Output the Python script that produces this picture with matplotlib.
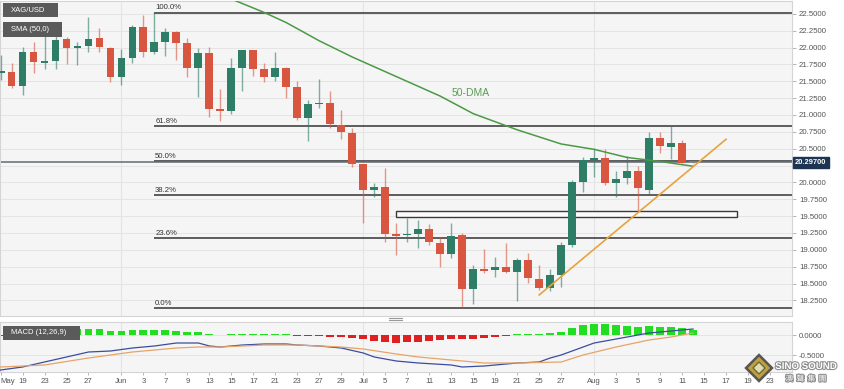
import numpy as np
import pandas as pd
import matplotlib
matplotlib.use("Agg")
import matplotlib.pyplot as plt
import matplotlib.transforms as mtransforms
import matplotlib.patheffects as pe
from matplotlib.patches import Rectangle, Polygon
from matplotlib.lines import Line2D

plt.rcParams['font.family'] = ['Liberation Sans', 'Noto Sans CJK SC', 'DejaVu Sans']

# trading days on the x axis (weekdays only)
days = pd.bdate_range("2022-05-17", "2022-08-26")

# daily candles XAG/USD, May 17 -> Aug 12
opens = [21.63, 21.64, 21.43, 21.93, 21.77, 21.80, 22.13, 21.99, 22.02, 22.14,
         21.99, 21.56, 21.85, 22.31, 21.93, 22.08, 22.23, 22.07, 21.70, 21.92,
         21.09, 21.06, 21.70, 21.96, 21.68, 21.56, 21.70, 21.42, 20.96, 21.16,
         21.18, 20.85, 20.73, 20.27, 19.89, 19.93, 19.22, 19.22, 19.23, 19.31,
         19.10, 18.94, 19.22, 18.42, 18.72, 18.70, 18.74, 18.67, 18.85, 18.57,
         18.43, 18.63, 19.07, 20.01, 20.33, 20.36, 19.99, 20.07, 20.17, 19.89,
         20.66, 20.53, 20.58, 20.30]
highs = [21.89, 21.77, 22.01, 22.08, 22.23, 22.22, 22.16, 22.08, 22.45, 22.29,
         22.01, 21.98, 22.34, 22.48, 22.53, 22.29, 22.25, 22.14, 21.99, 22.01,
         21.39, 21.85, 21.97, 21.97, 21.77, 21.93, 21.71, 21.50, 21.22, 21.53,
         21.36, 21.07, 20.81, 20.28, 19.99, 20.21, 19.40, 19.47, 19.44, 19.38,
         19.19, 19.40, 19.25, 18.77, 19.01, 18.89, 19.10, 18.88, 18.95, 18.77,
         18.72, 19.12, 20.04, 20.38, 20.51, 20.50, 20.17, 20.39, 20.24, 20.75,
         20.75, 20.84, 20.63, 20.31]
lows = [21.52, 21.40, 21.30, 21.62, 21.68, 21.68, 21.76, 21.74, 21.93, 21.93,
        21.49, 21.45, 21.77, 21.86, 21.91, 21.88, 21.82, 21.56, 21.27, 20.97,
        20.91, 21.01, 21.36, 21.58, 21.49, 21.50, 21.25, 20.93, 20.61, 21.10,
        20.81, 20.64, 20.23, 19.40, 19.78, 19.12, 18.92, 19.12, 19.03, 19.07,
        18.74, 18.88, 18.15, 18.20, 18.66, 18.60, 18.66, 18.24, 18.51, 18.40,
        18.39, 18.45, 19.04, 19.86, 20.08, 19.96, 19.78, 19.98, 19.56, 19.81,
        20.44, 20.35, 20.29, 20.29]
closes = [21.65, 21.43, 21.93, 21.79, 21.80, 22.11, 21.99, 22.02, 22.13, 22.01,
          21.56, 21.85, 22.31, 21.93, 22.08, 22.23, 22.07, 21.70, 21.92, 21.09,
          21.06, 21.70, 21.96, 21.68, 21.56, 21.70, 21.42, 20.96, 21.16, 21.17,
          20.87, 20.75, 20.27, 19.89, 19.93, 19.23, 19.21, 19.23, 19.31, 19.12,
          18.94, 19.20, 18.42, 18.72, 18.69, 18.74, 18.67, 18.85, 18.58, 18.43,
          18.63, 19.07, 20.01, 20.33, 20.36, 19.99, 20.05, 20.17, 19.92, 20.66,
          20.54, 20.58, 20.29, 20.297]
last_price = 20.297

# 50-day SMA, read at a few days
sma_days = ["2022-06-15", "2022-06-20", "2022-06-22", "2022-06-27", "2022-06-30",
            "2022-07-06", "2022-07-12", "2022-07-15", "2022-07-21", "2022-07-27",
            "2022-08-01", "2022-08-04", "2022-08-09", "2022-08-12"]
sma_vals = [22.72, 22.52, 22.37, 22.10, 21.86, 21.57, 21.28, 21.02, 20.78, 20.57,
            20.49, 20.37, 20.31, 20.24]

# fibonacci retracement (Jun 6 high -> Jul 14 low)
fib_start = "2022-06-06"
fib_labels = ["100.0%", "61.8%", "50.0%", "38.2%", "23.6%", "0.0%"]
fib_levels = [22.52, 20.84, 20.32, 19.81, 19.17, 18.13]

# rising support line and the resistance zone
trend_days = ["2022-07-25", "2022-08-17"]
trend_vals = [18.33, 20.64]
zone_days = ["2022-07-06", "2022-08-18"]
zone_vals = [19.48, 19.57]

# MACD (12,26,9)
macd_days = [0, 2, 4, 6, 8, 10, 12, 14, 16, 18, 19, 20, 22, 24, 26, 27, 29, 31, 33, 34,
             36, 38, 41, 42, 44, 47, 49, 50, 51, 53, 54, 56, 58, 59, 61, 63]
macd_vals = [-0.875, -0.80, -0.675, -0.55, -0.425, -0.40, -0.325, -0.275, -0.20, -0.20,
             -0.275, -0.30, -0.25, -0.225, -0.225, -0.25, -0.275, -0.325, -0.45, -0.55,
             -0.65, -0.70, -0.75, -0.80, -0.775, -0.70, -0.675, -0.575, -0.50, -0.30,
             -0.20, -0.10, 0.0, 0.05, 0.10, 0.15]
signal_days = [0, 4, 8, 12, 16, 18, 20, 24, 27, 31, 33, 36, 38, 41, 44, 47, 51, 53, 56, 59, 61, 63]
signal_vals = [-0.80, -0.75, -0.575, -0.425, -0.325, -0.30, -0.30, -0.25, -0.25, -0.30,
               -0.35, -0.475, -0.55, -0.625, -0.70, -0.70, -0.675, -0.50, -0.30, -0.125,
               -0.05, 0.05]
hist = [-0.02, 0.02, 0.06, 0.09, 0.12, 0.14, 0.15, 0.15, 0.16, 0.15,
        0.11, 0.11, 0.125, 0.125, 0.125, 0.125, 0.11, 0.08, 0.075, 0.02,
        0.01, 0.015, 0.03, 0.03, 0.03, 0.03, 0.025, -0.02, -0.02, -0.03,
        -0.04, -0.06, -0.08, -0.11, -0.14, -0.175, -0.19, -0.18, -0.17, -0.14,
        -0.125, -0.10, -0.11, -0.09, -0.07, -0.04, -0.02, 0.02, 0.02, 0.02,
        0.04, 0.07, 0.17, 0.25, 0.28, 0.27, 0.25, 0.23, 0.21, 0.22,
        0.21, 0.21, 0.17, 0.125]

# x axis labels
tick_days = ["2022-05-17", "2022-05-19", "2022-05-23", "2022-05-25", "2022-05-27",
             "2022-06-01", "2022-06-03", "2022-06-07", "2022-06-09", "2022-06-13",
             "2022-06-15", "2022-06-17", "2022-06-21", "2022-06-23", "2022-06-27",
             "2022-06-29", "2022-07-01", "2022-07-05", "2022-07-07", "2022-07-11",
             "2022-07-13", "2022-07-15", "2022-07-19", "2022-07-21", "2022-07-25",
             "2022-07-27", "2022-08-01", "2022-08-03", "2022-08-05", "2022-08-09",
             "2022-08-11", "2022-08-15", "2022-08-17", "2022-08-19", "2022-08-23"]
tick_labels = ["May", "19", "23", "25", "27", "Jun", "3", "7", "9", "13", "15", "17",
               "21", "23", "27", "29", "Jul", "5", "7", "11", "13", "15", "19", "21",
               "25", "27", "Aug", "3", "5", "9", "11", "15", "17", "19", "23"]
month_days = ["2022-06-01", "2022-07-01", "2022-08-01"]


def pos(d):
	return days.get_loc(pd.Timestamp(d))


W, H = 845.0, 389.0
GREEN = '#2e7d67'
RED = '#d8563f'
BG = '#f5f5f5'
GRID = '#e4e4e4'

fig = plt.figure(figsize=(W / 100, H / 100), dpi=100)
ax = fig.add_axes([0, 73 / H, 792 / W, 315 / H])
axm = fig.add_axes([0, 17 / H, 792 / W, 50 / H], sharex=ax)

for a in (ax, axm):
	a.set_facecolor(BG)
	a.set_axisbelow(True)
	for s in a.spines.values():
		s.set_color('#d4d4d4')
		s.set_linewidth(0.8)
	a.yaxis.tick_right()
	a.grid(axis='y', color=GRID, lw=0.7)
	for d in month_days:
		a.axvline(pos(d), color=GRID, lw=0.8, zorder=0)
	a.tick_params(axis='y', length=3, width=0.6, color='#aaaaaa', labelsize=5.6,
				  labelcolor='#555555', pad=2)

# ------------------- candles -------------------
o = np.array(opens)
c = np.array(closes)
x = np.arange(len(o))
col = np.where(c >= o, GREEN, RED)
ax.vlines(x, lows, highs, colors=col, lw=1.0, alpha=0.6, zorder=3)
ax.bar(x, np.maximum(np.abs(c - o), 0.018), bottom=np.minimum(o, c), width=0.72,
	   color=col, lw=0, zorder=4)

# fibonacci levels
xmax = 72
ax.hlines(fib_levels, pos(fib_start), xmax, color='#333333', lw=1.1, zorder=2)
for lab, lev in zip(fib_labels, fib_levels):
	ax.annotate(lab, (pos(fib_start), lev), xytext=(0.5, 0.8), textcoords='offset points',
				fontsize=5.6, color='#333333', va='bottom', ha='left')

# current price line
ax.axhline(last_price, color='#5d6b79', lw=1.1, zorder=2)

# zone box
ax.add_patch(Rectangle((pos(zone_days[0]), zone_vals[0]), pos(zone_days[1]) - pos(zone_days[0]),
					   zone_vals[1] - zone_vals[0], fc='#fbfbfb', ec='#3a3a3a', lw=1.0, zorder=2))

# 50 DMA and trend line
ax.plot([pos(d) for d in sma_days], sma_vals, color='#4a9a45', lw=1.1, zorder=5)
ax.text(pos("2022-07-13"), 21.32, "50-DMA", color='#5a9e55', fontsize=7.5, va='center', ha='left')
ax.plot([pos(d) for d in trend_days], trend_vals, color='#e8a33d', lw=1.2, zorder=5)

ax.set_ylim(18.018, 22.691)
ax.set_xlim(-0.05, xmax)
yt = np.arange(18.25, 22.51, 0.25)
ax.set_yticks(yt)
# the 20.25 label sits under the price tag
ax.set_yticklabels(['' if abs(v - 20.25) < 1e-6 else '%.4f' % v for v in yt])
ax.tick_params(axis='x', length=0, labelbottom=False)

# price tag on right axis
tr = mtransforms.blended_transform_factory(ax.transAxes, ax.transData)
ax.text(1.004, last_price, '%.5f' % last_price, transform=tr, fontsize=5.4, color='white',
		fontweight='bold', va='center', ha='left', zorder=10, clip_on=False,
		bbox=dict(boxstyle='square,pad=0.28', fc='#1d3553', ec='#1d3553'))

# ------------------- MACD -------------------
h = np.array(hist)
axm.bar(x, h, width=0.72, color=np.where(h >= 0, '#22dd22', '#e02020'), lw=0, zorder=2)
axm.plot(macd_days, macd_vals, color='#3c4d9c', lw=0.9, zorder=3)
axm.plot(signal_days, signal_vals, color='#e6a468', lw=0.9, zorder=3)
axm.set_ylim(-0.925, 0.325)
axm.set_yticks([0.0, -0.5])
axm.set_yticklabels(['0.0000', '-0.5000'])

axm.set_xticks([pos(d) for d in tick_days])
axm.set_xticklabels(tick_labels)
axm.tick_params(axis='x', length=2.5, width=0.6, color='#aaaaaa', labelsize=5.6,
				labelcolor='#555555', pad=2)
axm.get_xticklabels()[0].set_ha('left')


# ------------------- labels and decorations -------------------
def label_box(x0, y0, w, hgt, text):
	fig.patches.append(Rectangle((x0 / W, 1 - (y0 + hgt) / H), w / W, hgt / H,
								 transform=fig.transFigure, fc='#5a5a5a', ec='none', zorder=6))
	fig.text((x0 + 8) / W, 1 - (y0 + hgt / 2) / H, text, color='white', fontsize=5.5,
			 va='center', ha='left', zorder=7)


label_box(3, 3, 55, 14, "XAG/USD")
label_box(3, 22, 59, 15, "SMA (50,0)")
label_box(3, 326, 77, 14, "MACD (12,26,9)")

# panel resize handle
for yy in (317.5, 320):
	fig.add_artist(Line2D([389 / W, 402 / W], [1 - yy / H, 1 - yy / H], color='#999999', lw=0.8))

# watermark
cx, cy, r = 759, 368, 13
fig.patches.append(Polygon([(cx / W, 1 - (cy - r) / H), ((cx + r) / W, 1 - cy / H),
							(cx / W, 1 - (cy + r) / H), ((cx - r) / W, 1 - cy / H)],
						   closed=True, transform=fig.transFigure, fc='#b8962e', ec='#4a4a4a',
						   lw=1.8, alpha=0.9, zorder=8))
r2 = 6
fig.patches.append(Polygon([(cx / W, 1 - (cy - r2) / H), ((cx + r2) / W, 1 - cy / H),
							(cx / W, 1 - (cy + r2) / H), ((cx - r2) / W, 1 - cy / H)],
						   closed=True, transform=fig.transFigure, fc='#e2ddb0', ec='#6b6b3a',
						   lw=1, zorder=9))
halo = [pe.withStroke(linewidth=1.6, foreground='#8f8f8f')]
fig.text(806 / W, 1 - 366 / H, "SINO SOUND", fontsize=7, fontweight='bold', color='white',
		 ha='center', va='center', zorder=9, path_effects=halo)
fig.text(806 / W, 1 - 379 / H, "澳  聲  集  團", fontsize=5.5, color='white',
		 family=['Noto Sans CJK TC', 'DejaVu Sans'], ha='center', va='center', zorder=9,
		 path_effects=halo)

fig.savefig("out.png", dpi=100, facecolor='white')
